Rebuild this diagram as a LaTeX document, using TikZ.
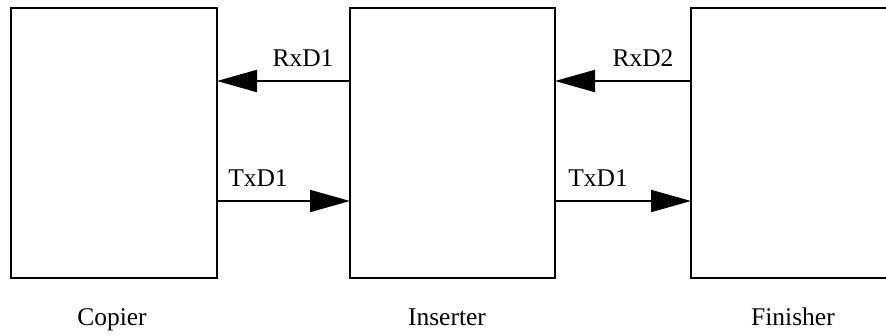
\documentclass[tikz,border=0pt]{standalone}
\usepackage{fontspec}
\setmainfont{Liberation Serif}
\usetikzlibrary{arrows.meta}
\begin{document}
\begin{tikzpicture}[x=1pt,y=-1pt,
  blk/.style={draw,line width=2pt,minimum height=270pt,inner sep=0pt,outer sep=0pt},
  arr/.style={line width=2pt,-{Triangle[length=40pt,width=22pt]}},
  lbl/.style={font=\fontsize{25.5}{29}\selectfont,inner sep=0pt,anchor=base},
]
\useasboundingbox (0,0) rectangle (886,335);
\node[blk,minimum width=206pt] (cop) at (114,143) {};
\node[blk,minimum width=205pt] (ins) at (452.5,143) {};
\node[blk,minimum width=210pt] (fin) at (796,142.5) {};
\coordinate (yR) at (0,81);
\coordinate (yT) at (0,201);
\draw[arr] (ins.west |- yR) -- (cop.east |- yR);
\draw[arr] (cop.east |- yT) -- (ins.west |- yT);
\draw[arr] (fin.west |- yR) -- (ins.east |- yR);
\draw[arr] (ins.east |- yT) -- (fin.west |- yT);
\node[lbl] (l1) at (303,66) {RxD1};
\node[lbl] (l2) at (258,186) {TxD1};
\node[lbl] (l3) at (643,66) {RxD2};
\node[lbl] (l4) at (598,186) {TxD1};
\node[lbl] (n1) at (112,325) {Copier};
\node[lbl] (n2) at (447,325) {Inserter};
\node[lbl] (n3) at (793,325) {Finisher};
\end{tikzpicture}
\end{document}
